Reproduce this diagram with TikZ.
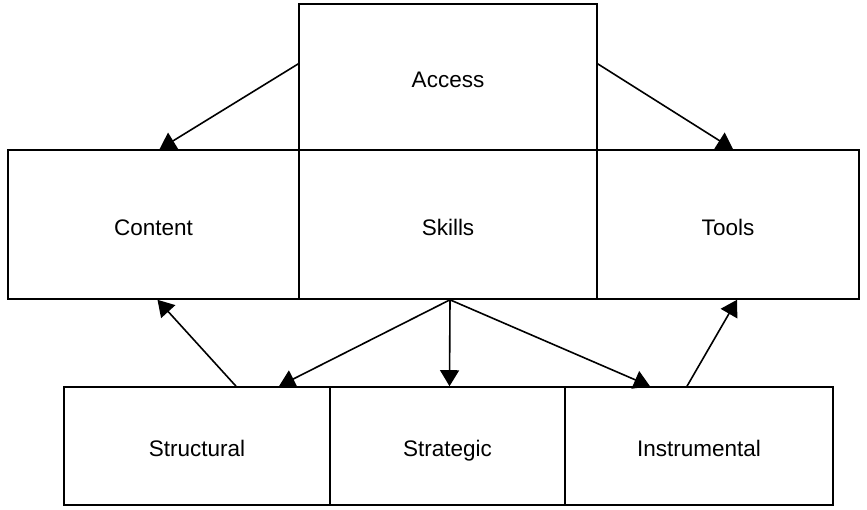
\documentclass[tikz,border=0pt]{standalone}
\usepackage{fontspec}
\setmainfont{Liberation Sans}
\usetikzlibrary{arrows.meta}
\begin{document}
\begin{tikzpicture}[x=1pt,y=-1pt,
    block/.style ={rectangle, draw, line width=1.6pt, inner sep=0pt, text height=21pt, text depth=0pt, font=\fontsize{22.5}{26}\selectfont},
    link/.style ={line width=1.6pt, -{Triangle[width=19pt,length=16pt]}}]
   \useasboundingbox (0,0) rectangle (867,509);
   \node[block, minimum width=298pt, minimum height=146pt] (Access) at (448,77) {Access};
   \node[block, minimum width=291pt, minimum height=149pt] (Content) at (153.5,224.5) {Content};
   \node[block, minimum width=298pt, minimum height=149pt] (Skills) at (448,224.5) {Skills};
   \node[block, minimum width=262pt, minimum height=149pt] (Tools) at (728,224.5) {Tools};
   \node[block, minimum width=266pt, minimum height=118pt] (Structural) at (197,446) {Structural};
   \node[block, minimum width=235pt, minimum height=118pt] (Strategic) at (447.5,446) {Strategic};
   \node[block, minimum width=268pt, minimum height=118pt] (Instrumental) at (699,446) {Instrumental};

   \draw[link] (Access.175) to ([xshift=6]Content.north);
   \draw[link] (Access.5) to ([xshift=5]Tools.north);
   \draw[link] ([xshift=39]Structural.north) to ([xshift=4]Content.south);
   \draw[link] ([xshift=-12]Instrumental.north) to ([xshift=9]Tools.south);
   \draw[link] ([xshift=2]Skills.south) to ([xshift=82]Structural.north);
   \draw[link] ([xshift=2]Skills.south) to ([xshift=2]Strategic.north);
   \draw[link] ([xshift=2]Skills.south) to ([xshift=-49]Instrumental.north);
\end{tikzpicture}
\end{document}
